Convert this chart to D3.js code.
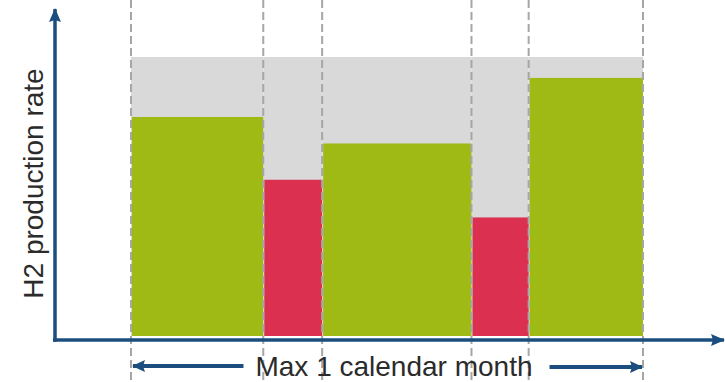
<!DOCTYPE html>
<html><head><meta charset="utf-8">
<script src="https://cdn.jsdelivr.net/npm/d3@7"></script>
<style>html,body{margin:0;padding:0;background:#fff;}svg{display:block;}</style>
</head><body>
<svg id="c" width="725" height="382"></svg>
<script>
// Data
const periods = ["P1", "P2", "P3", "P4", "P5"];
const durations = [7.75, 3.45, 8.75, 3.35, 6.7];      // days within max 1 calendar month
const production = [78.5, 56, 69, 42.5, 92.5];         // H2 production rate (% of capacity)
const capacity = [100, 100, 100, 100, 100];
const status = ["full", "reduced", "full", "reduced", "full"];
const yLabel = "H2 production rate";
const xLabel = "Max 1 calendar month";

const colors = { full: "#9FB915", reduced: "#DC3050", cap: "#D9D9D9", axis: "#1B4E7E", dash: "#A6A6A6", text: "#2B2B2B" };

const svg = d3.select("#c");
const starts = [];
let acc = 0;
durations.forEach(d => { starts.push(acc); acc += d; });
const total = acc;

const x = d3.scaleLinear().domain([0, total]).range([131, 643]);
const y = d3.scaleLinear().domain([0, 100]).range([336, 57]);

const data = periods.map((p, i) => ({ p, s: starts[i], e: starts[i] + durations[i], v: production[i], c: capacity[i], st: status[i] }));

// capacity background
svg.append("g").selectAll("rect").data(data).join("rect")
  .attr("x", d => x(d.s)).attr("width", d => x(d.e) - x(d.s))
  .attr("y", d => y(d.c)).attr("height", d => y(0) - y(d.c))
  .attr("fill", colors.cap);

// bars
svg.append("g").selectAll("rect").data(data).join("rect")
  .attr("x", d => x(d.s) + 1).attr("width", d => x(d.e) - x(d.s) - 1)
  .attr("y", d => y(d.v)).attr("height", d => y(0) - y(d.v))
  .attr("fill", d => colors[d.st]);

// boundaries (dashed)
const bounds = starts.concat([total]);
svg.append("g").selectAll("line").data(bounds).join("line")
  .attr("x1", d => x(d)).attr("x2", d => x(d))
  .attr("y1", 0).attr("y2", 382)
  .attr("stroke", colors.dash).attr("stroke-width", 2).attr("stroke-dasharray", "8,4");

// arrow markers (userSpaceOnUse for exact sizes)
const defs = svg.append("defs");
defs.append("marker").attr("id", "ah").attr("viewBox", "0 0 14 12")
  .attr("refX", 13).attr("refY", 6).attr("markerWidth", 14).attr("markerHeight", 12)
  .attr("markerUnits", "userSpaceOnUse").attr("orient", "auto")
  .append("path").attr("d", "M0,0L14,6L0,12L2,6z").attr("fill", colors.axis);
defs.append("marker").attr("id", "ah2").attr("viewBox", "0 0 13 12")
  .attr("refX", 12).attr("refY", 6).attr("markerWidth", 13).attr("markerHeight", 12)
  .attr("markerUnits", "userSpaceOnUse").attr("orient", "auto")
  .append("path").attr("d", "M0,0L13,6L0,12L2,6z").attr("fill", colors.axis);

// axes
svg.append("line").attr("x1", 53).attr("x2", 724).attr("y1", 340).attr("y2", 340)
  .attr("stroke", colors.axis).attr("stroke-width", 3.5).attr("marker-end", "url(#ah)");
svg.append("line").attr("x1", 55).attr("x2", 55).attr("y1", 341.7).attr("y2", 9)
  .attr("stroke", colors.axis).attr("stroke-width", 3.5).attr("marker-end", "url(#ah)");

// y label
svg.append("text").attr("transform", `translate(43,${(y(0) + y(100)) / 2 - 13}) rotate(-90)`)
  .attr("text-anchor", "middle").attr("fill", colors.text)
  .attr("font-family", "Liberation Sans, Arial, sans-serif").attr("font-size", 28)
  .text(yLabel);

// x label with span arrows
const midX = (x(0) + x(total)) / 2;
const lbl = svg.append("text").attr("x", midX + 7).attr("y", 376)
  .attr("text-anchor", "middle").attr("fill", colors.text)
  .attr("font-family", "Liberation Sans, Arial, sans-serif").attr("font-size", 28)
  .text(xLabel);
const bb = lbl.node().getBBox();
svg.append("line").attr("x1", bb.x - 12).attr("x2", x(0) + 2).attr("y1", 366).attr("y2", 366)
  .attr("stroke", colors.axis).attr("stroke-width", 4).attr("marker-end", "url(#ah2)");
svg.append("line").attr("x1", bb.x + bb.width + 17).attr("x2", x(total) - 1).attr("y1", 367).attr("y2", 367)
  .attr("stroke", colors.axis).attr("stroke-width", 4).attr("marker-end", "url(#ah2)");
</script>
</body></html>
